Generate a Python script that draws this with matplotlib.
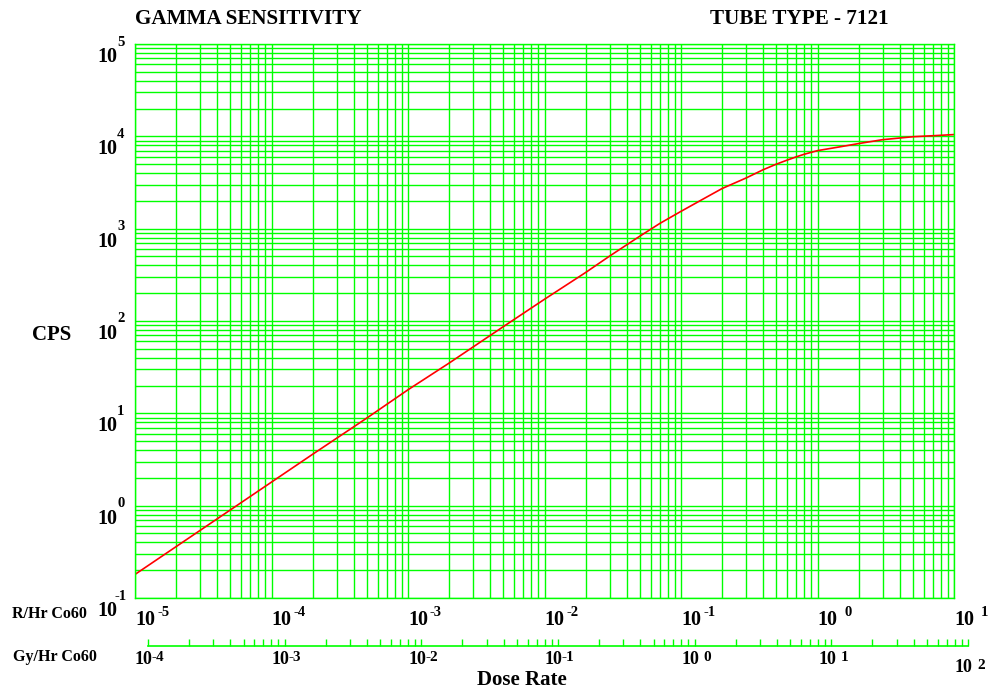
import numpy as np
import matplotlib

matplotlib.use("Agg")
import matplotlib.pyplot as plt  # noqa: E402
from matplotlib.ticker import LogLocator, NullFormatter  # noqa: E402

# dose rate (R/Hr Co60) vs counts per second
dose_r = [1e-5, 2e-5, 5e-5, 1e-4, 2e-4, 5e-4, 1e-3, 2e-3, 5e-3, 1e-2, 2e-2,
          3e-2, 5e-2, 7e-2, 0.1, 0.15, 0.2, 0.3, 0.4, 0.5, 0.6, 0.7, 0.8, 1,
          1.5, 2, 3, 5, 7, 10]
cps = [0.18, 0.36, 0.9, 1.8, 3.6, 8.9, 18, 35, 87, 172, 335,
       505, 830, 1140, 1540, 2150, 2720, 3540, 4350, 5000, 5530, 6000, 6400,
       7000, 7750, 8350, 9200, 9900, 10150, 10450]

r_exps = [-5, -4, -3, -2, -1, 0, 1]      # R/Hr decades on the main x axis
gy_exps = [-4, -3, -2, -1, 0, 1, 2]      # Gy/Hr decades on the second scale
y_exps = [-1, 0, 1, 2, 3, 4, 5]

GREEN = "#00ff00"
FONT = "Liberation Serif"
W, H = 988, 692

fig = plt.figure(figsize=(W / 100, H / 100), dpi=100)
ax = fig.add_axes([135 / W, 1 - 598 / H, (954 - 135) / W, (598 - 44) / H])
ax.set_xscale("log")
ax.set_yscale("log")
ax.set_xlim(1e-5, 1e1)
ax.set_ylim(1e-1, 1e5)
for a in (ax.xaxis, ax.yaxis):
    a.set_major_locator(LogLocator(base=10, numticks=20))
    a.set_minor_locator(LogLocator(base=10, subs=np.arange(2, 10), numticks=20))
    a.set_minor_formatter(NullFormatter())
ax.grid(which="both", color=GREEN, lw=1.0)
ax.tick_params(which="both", length=0, labelbottom=False, labelleft=False)
for sp in ax.spines.values():
    sp.set_color(GREEN)
    sp.set_linewidth(1.0)

ax.plot(dose_r, cps, color="red", lw=1.2)

bold = dict(family=FONT, weight="bold", color="black")

# y tick labels: "10" with raised exponent
for k in y_exps:
    ax.annotate("10", xy=(0, 10.0 ** k), xycoords=("axes fraction", "data"),
                xytext=(-18, -13), textcoords="offset pixels",
                ha="right", va="center", fontsize=14.5, **bold)
    ax.annotate(str(k), xy=(0, 10.0 ** k), xycoords=("axes fraction", "data"),
                xytext=(-18 if k >= 0 else -21, 2), textcoords="offset pixels",
                ha="left", va="center", fontsize=10.5, **bold)

# R/Hr labels under the plot
for k in r_exps:
    ax.annotate("10", xy=(10.0 ** k, 0), xycoords=("data", "axes fraction"),
                xytext=(0, -22), textcoords="offset pixels",
                ha="left", va="center", fontsize=14.5, **bold)
    ax.annotate(str(k), xy=(10.0 ** k, 0), xycoords=("data", "axes fraction"),
                xytext=(27 if k >= 0 else 22, -15), textcoords="offset pixels",
                ha="left", va="center", fontsize=10.5, **bold)

# Gy/Hr scale
ax2 = fig.add_axes([148 / W, 1 - 646 / H, 820 / W, 0.02])
ax2.set_xscale("log")
ax2.set_xlim(1e-4, 1e2)
ax2.xaxis.set_major_locator(LogLocator(base=10, numticks=20))
ax2.xaxis.set_minor_locator(LogLocator(base=10, subs=np.arange(2, 10), numticks=20))
ax2.xaxis.set_minor_formatter(NullFormatter())
ax2.set_yticks([])
ax2.patch.set_visible(False)
for name, sp in ax2.spines.items():
    sp.set_visible(name == "bottom")
ax2.spines["bottom"].set_color(GREEN)
ax2.spines["bottom"].set_linewidth(1.2)
ax2.tick_params(axis="x", which="both", direction="in", length=5, width=1,
                color=GREEN, labelbottom=False)

for k in gy_exps:
    dy = -8 if k == gy_exps[-1] else 0
    ax2.annotate("10", xy=(10.0 ** k, 0), xycoords=("data", "axes fraction"),
                 xytext=(-13, -5 + dy), textcoords="offset pixels",
                 ha="left", va="top", fontsize=13, **bold)
    ax2.annotate(str(k), xy=(10.0 ** k, 0), xycoords=("data", "axes fraction"),
                 xytext=(9 if k >= 0 else 4, -5 + dy), textcoords="offset pixels",
                 ha="left", va="top", fontsize=11, **bold)

fig.text(12 / W, 1 - 614 / H, "R/Hr Co60", ha="left", va="center", fontsize=11.5, **bold)
fig.text(13 / W, 1 - 657 / H, "Gy/Hr Co60", ha="left", va="center", fontsize=11.5, **bold)
fig.text(52 / W, 1 - 335 / H, "CPS", ha="center", va="center", fontsize=15, **bold)
fig.text(522 / W, 1 - 680 / H, "Dose Rate", ha="center", va="center", fontsize=15, **bold)
fig.text(135 / W, 1 - 19 / H, "GAMMA SENSITIVITY", ha="left", va="center",
         fontsize=15.2, **bold)
fig.text(710 / W, 1 - 19 / H, "TUBE TYPE - 7121", ha="left", va="center",
         fontsize=15.2, **bold)

fig.savefig("out.png", dpi=100)
plt.close(fig)
